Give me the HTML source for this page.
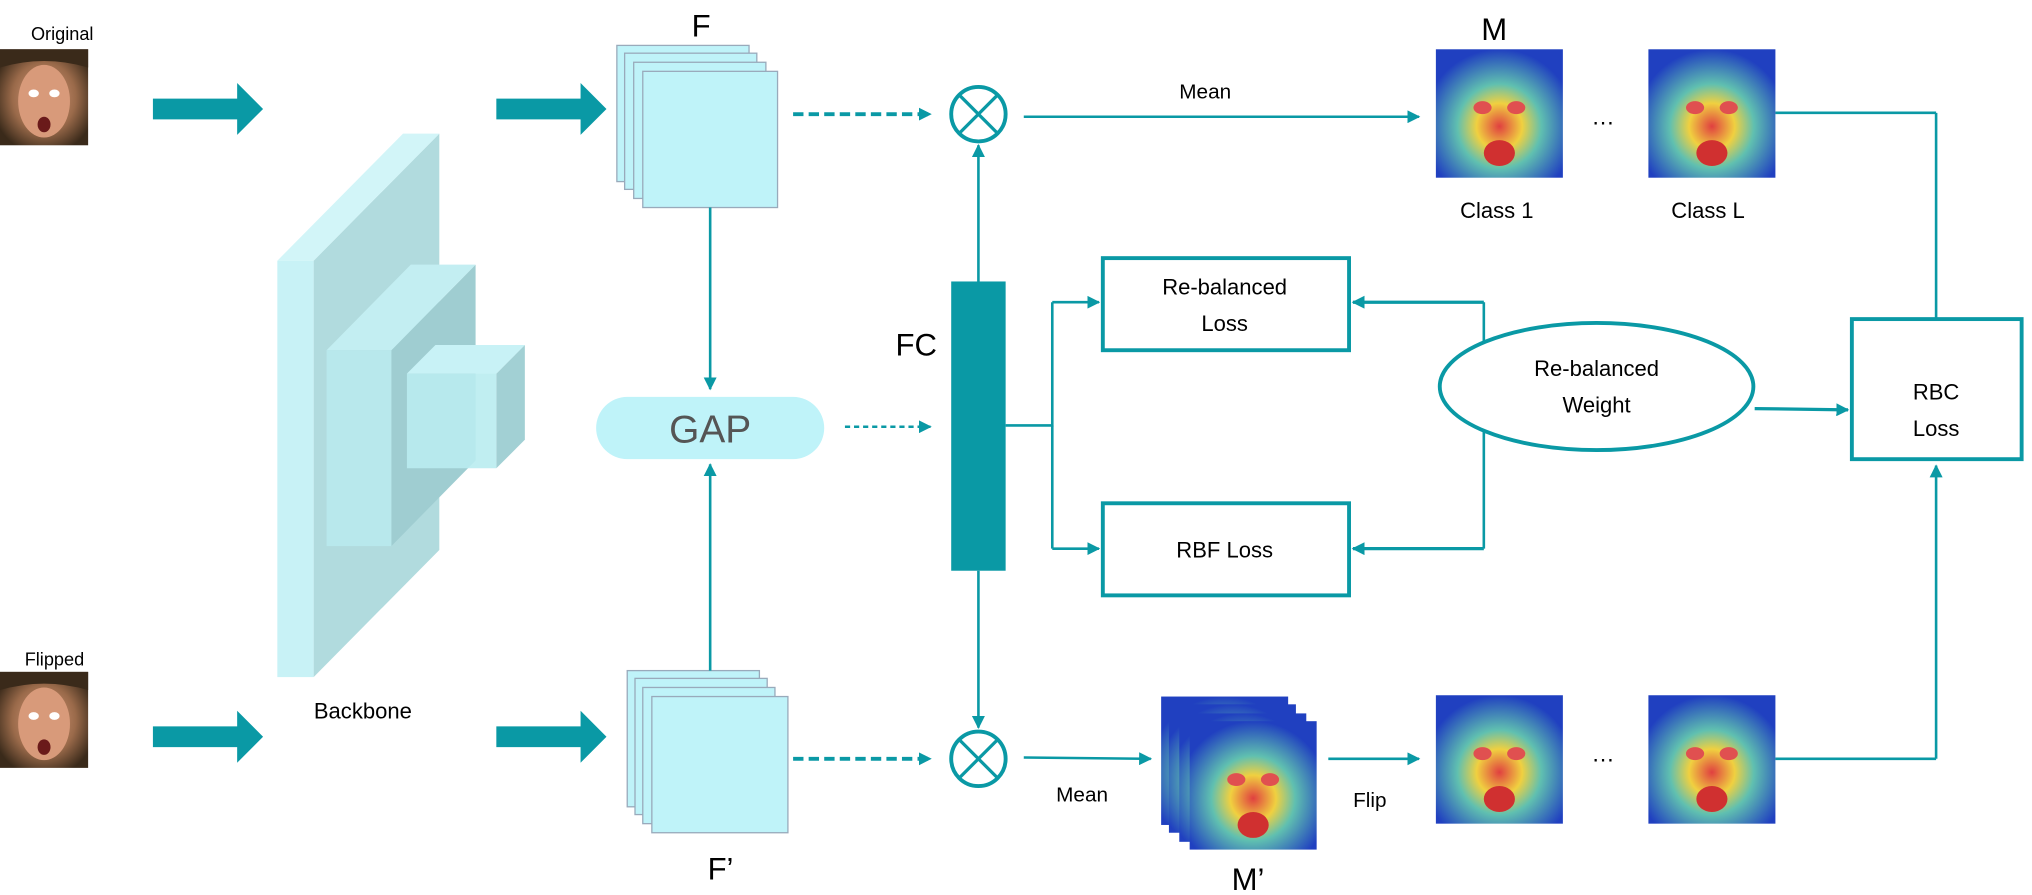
<!DOCTYPE html>
<html><head><meta charset="utf-8"><style>html,body{margin:0;padding:0;background:#fff}svg{display:block}</style></head><body>
<svg width="2032" height="895" viewBox="0 0 1568 690" preserveAspectRatio="none" xmlns="http://www.w3.org/2000/svg" font-family="Liberation Sans, Arial, sans-serif">
<defs>
<marker id="ah" markerWidth="10" markerHeight="10" refX="9" refY="5" orient="auto" markerUnits="userSpaceOnUse"><path d="M0,0 L10,5 L0,10 z" fill="#0a99a5"/></marker>
<radialGradient id="face" cx="50%" cy="50%" r="60%"><stop offset="0" stop-color="#e0a080"/><stop offset="0.6" stop-color="#9a6a4a"/><stop offset="1" stop-color="#3a2a1a"/></radialGradient>
<radialGradient id="heat" cx="50%" cy="60%" r="60%"><stop offset="0" stop-color="#e04040"/><stop offset="0.3" stop-color="#f0d040"/><stop offset="0.55" stop-color="#60c0b0"/><stop offset="1" stop-color="#2040c0"/></radialGradient>
<g id="faceimg"><rect width="68" height="74" fill="url(#face)"/><ellipse cx="34" cy="40" rx="20" ry="28" fill="#d89a7a"/><ellipse cx="26" cy="34" rx="4" ry="3" fill="#fff"/><ellipse cx="42" cy="34" rx="4" ry="3" fill="#fff"/><ellipse cx="34" cy="58" rx="5" ry="6" fill="#6a1a1a"/><path d="M0,0 h68 v14 q-34,-10 -68,0z" fill="#3a2a1a"/></g>
<g id="heatimg"><rect width="98" height="99" fill="url(#heat)"/><ellipse cx="49" cy="80" rx="12" ry="10" fill="#d03030"/><ellipse cx="36" cy="45" rx="7" ry="5" fill="#e05050"/><ellipse cx="62" cy="45" rx="7" ry="5" fill="#e05050"/></g>
</defs>
<!-- input images -->
<text x="48" y="31" font-size="14" text-anchor="middle">Original</text>
<use href="#faceimg" x="0" y="38"/>
<text x="42" y="513" font-size="14" text-anchor="middle">Flipped</text>
<use href="#faceimg" x="0" y="518"/>
<!-- big arrows -->
<g fill="#0a99a5">
<path d="M118,76 h65 v-12 l20,20 l-20,20 v-12 h-65z"/>
<path d="M383,76 h65 v-12 l20,20 l-20,20 v-12 h-65z"/>
<path d="M118,560 h65 v-12 l20,20 l-20,20 v-12 h-65z"/>
<path d="M383,560 h65 v-12 l20,20 l-20,20 v-12 h-65z"/>
</g>
<!-- backbone -->
<polygon points="242,201 339,103 339,424 242,522" fill="#a9d7da" opacity="0.9"/>
<polygon points="214,201 311,103 339,103 242,201" fill="#d2f5f8"/>
<rect x="214" y="201" width="28" height="321" fill="#c8f2f6"/>
<polygon points="302,270 367,204 367,355 302,421" fill="#9fcdd1"/>
<polygon points="252,270 317,204 367,204 302,270" fill="#c3eef2"/>
<rect x="252" y="270" width="50" height="151" fill="#b8e8ec"/>
<polygon points="383,288 405,266 405,339 383,361" fill="#a2d0d4"/>
<polygon points="314,288 336,266 405,266 383,288" fill="#c8f2f6"/>
<rect x="314" y="288" width="69" height="73" fill="#b9ecf0" opacity="0.9"/>
<text x="280" y="554" font-size="17" text-anchor="middle">Backbone</text>
<!-- F stacks -->
<g fill="#bff3f9" stroke="#9ab" stroke-width="1">
<rect x="476" y="35" width="102" height="105"/><rect x="482" y="41" width="102" height="105"/><rect x="489" y="48" width="102" height="105"/><rect x="496" y="55" width="104" height="105"/>
<rect x="484" y="517" width="102" height="105"/><rect x="490" y="523" width="102" height="105"/><rect x="496" y="530" width="102" height="105"/><rect x="503" y="537" width="105" height="105"/>
</g>
<text x="541" y="28" font-size="24" text-anchor="middle">F</text>
<text x="556" y="678" font-size="24" text-anchor="middle">F’</text>
<!-- GAP -->
<rect x="460" y="306" width="176" height="48" rx="24" fill="#bff3f9"/>
<text x="548" y="341" font-size="30" fill="#555" text-anchor="middle">GAP</text>
<g stroke="#0a99a5" stroke-width="2" fill="none">
<line x1="548" y1="160" x2="548" y2="300" marker-end="url(#ah)"/>
<line x1="548" y1="517" x2="548" y2="358" marker-end="url(#ah)"/>
<line x1="612" y1="88" x2="718" y2="88" stroke-width="3" stroke-dasharray="8,4" marker-end="url(#ah)"/>
<line x1="612" y1="585" x2="718" y2="585" stroke-width="3" stroke-dasharray="8,4" marker-end="url(#ah)"/>
<line x1="652" y1="329" x2="718" y2="329" stroke-dasharray="4,3" marker-end="url(#ah)"/>
<!-- circles -->
<circle cx="755" cy="88" r="21" stroke-width="3"/>
<path d="M740,73 L770,103 M770,73 L740,103" stroke-width="2.5"/>
<circle cx="755" cy="585" r="21" stroke-width="3"/>
<path d="M740,570 L770,600 M770,570 L740,600" stroke-width="2.5"/>
<line x1="755" y1="217" x2="755" y2="112" marker-end="url(#ah)"/>
<line x1="755" y1="440" x2="755" y2="561" marker-end="url(#ah)"/>
<line x1="790" y1="90" x2="1095" y2="90" marker-end="url(#ah)"/>
<line x1="790" y1="584" x2="888" y2="585" marker-end="url(#ah)"/>
<line x1="1025" y1="585" x2="1095" y2="585" marker-end="url(#ah)"/>
<!-- FC to boxes -->
<path d="M776,328 H812 V233"/><line x1="812" y1="233" x2="848" y2="233" marker-end="url(#ah)"/>
<path d="M812,328 V423"/><line x1="812" y1="423" x2="848" y2="423" marker-end="url(#ah)"/>
<!-- weight to boxes -->
<path d="M1145,268 V233"/><line x1="1145" y1="233" x2="1044" y2="233" marker-end="url(#ah)" stroke-width="2.5"/>
<path d="M1145,330 V423"/><line x1="1145" y1="423" x2="1044" y2="423" marker-end="url(#ah)" stroke-width="2.5"/>
<line x1="1354" y1="315" x2="1426" y2="316" stroke-width="2.5" marker-end="url(#ah)"/>
<!-- to RBC -->
<path d="M1370,87 H1494"/><line x1="1494" y1="87" x2="1494" y2="273" marker-end="url(#ah)"/>
<path d="M1370,585 H1494"/><line x1="1494" y1="585" x2="1494" y2="359" marker-end="url(#ah)"/>
</g>
<rect x="734" y="217" width="42" height="223" fill="#0a99a5"/>
<text x="707" y="274" font-size="24" text-anchor="middle">FC</text>
<text x="930" y="76" font-size="16" text-anchor="middle">Mean</text>
<text x="835" y="618" font-size="16" text-anchor="middle">Mean</text>
<text x="1057" y="622" font-size="16" text-anchor="middle">Flip</text>
<!-- boxes -->
<g fill="#fff" stroke="#0a99a5" stroke-width="3">
<rect x="851" y="199" width="190" height="71"/>
<rect x="851" y="388" width="190" height="71"/>
<rect x="1429" y="246" width="131" height="108"/>
<ellipse cx="1232" cy="298" rx="121" ry="49"/>
</g>
<g font-size="17" text-anchor="middle">
<text x="945" y="227">Re-balanced</text><text x="945" y="255">Loss</text>
<text x="945" y="430">RBF Loss</text>
<text x="1232" y="290">Re-balanced</text><text x="1232" y="318">Weight</text>
<text x="1494" y="308">RBC</text><text x="1494" y="336">Loss</text>
</g>
<!-- heatmaps -->
<text x="1153" y="31" font-size="24" text-anchor="middle">M</text>
<use href="#heatimg" x="1108" y="38"/>
<use href="#heatimg" x="1272" y="38"/>
<text x="1237" y="96" font-size="18" text-anchor="middle">…</text>
<text x="1155" y="168" font-size="17" text-anchor="middle">Class 1</text>
<text x="1318" y="168" font-size="17" text-anchor="middle">Class L</text>
<use href="#heatimg" x="896" y="537"/>
<use href="#heatimg" x="902" y="543"/>
<use href="#heatimg" x="910" y="550"/>
<use href="#heatimg" x="918" y="556"/>
<text x="963" y="686" font-size="24" text-anchor="middle">M’</text>
<use href="#heatimg" x="1108" y="536"/>
<use href="#heatimg" x="1272" y="536"/>
<text x="1237" y="587" font-size="18" text-anchor="middle">…</text>
</svg>
</body></html>
